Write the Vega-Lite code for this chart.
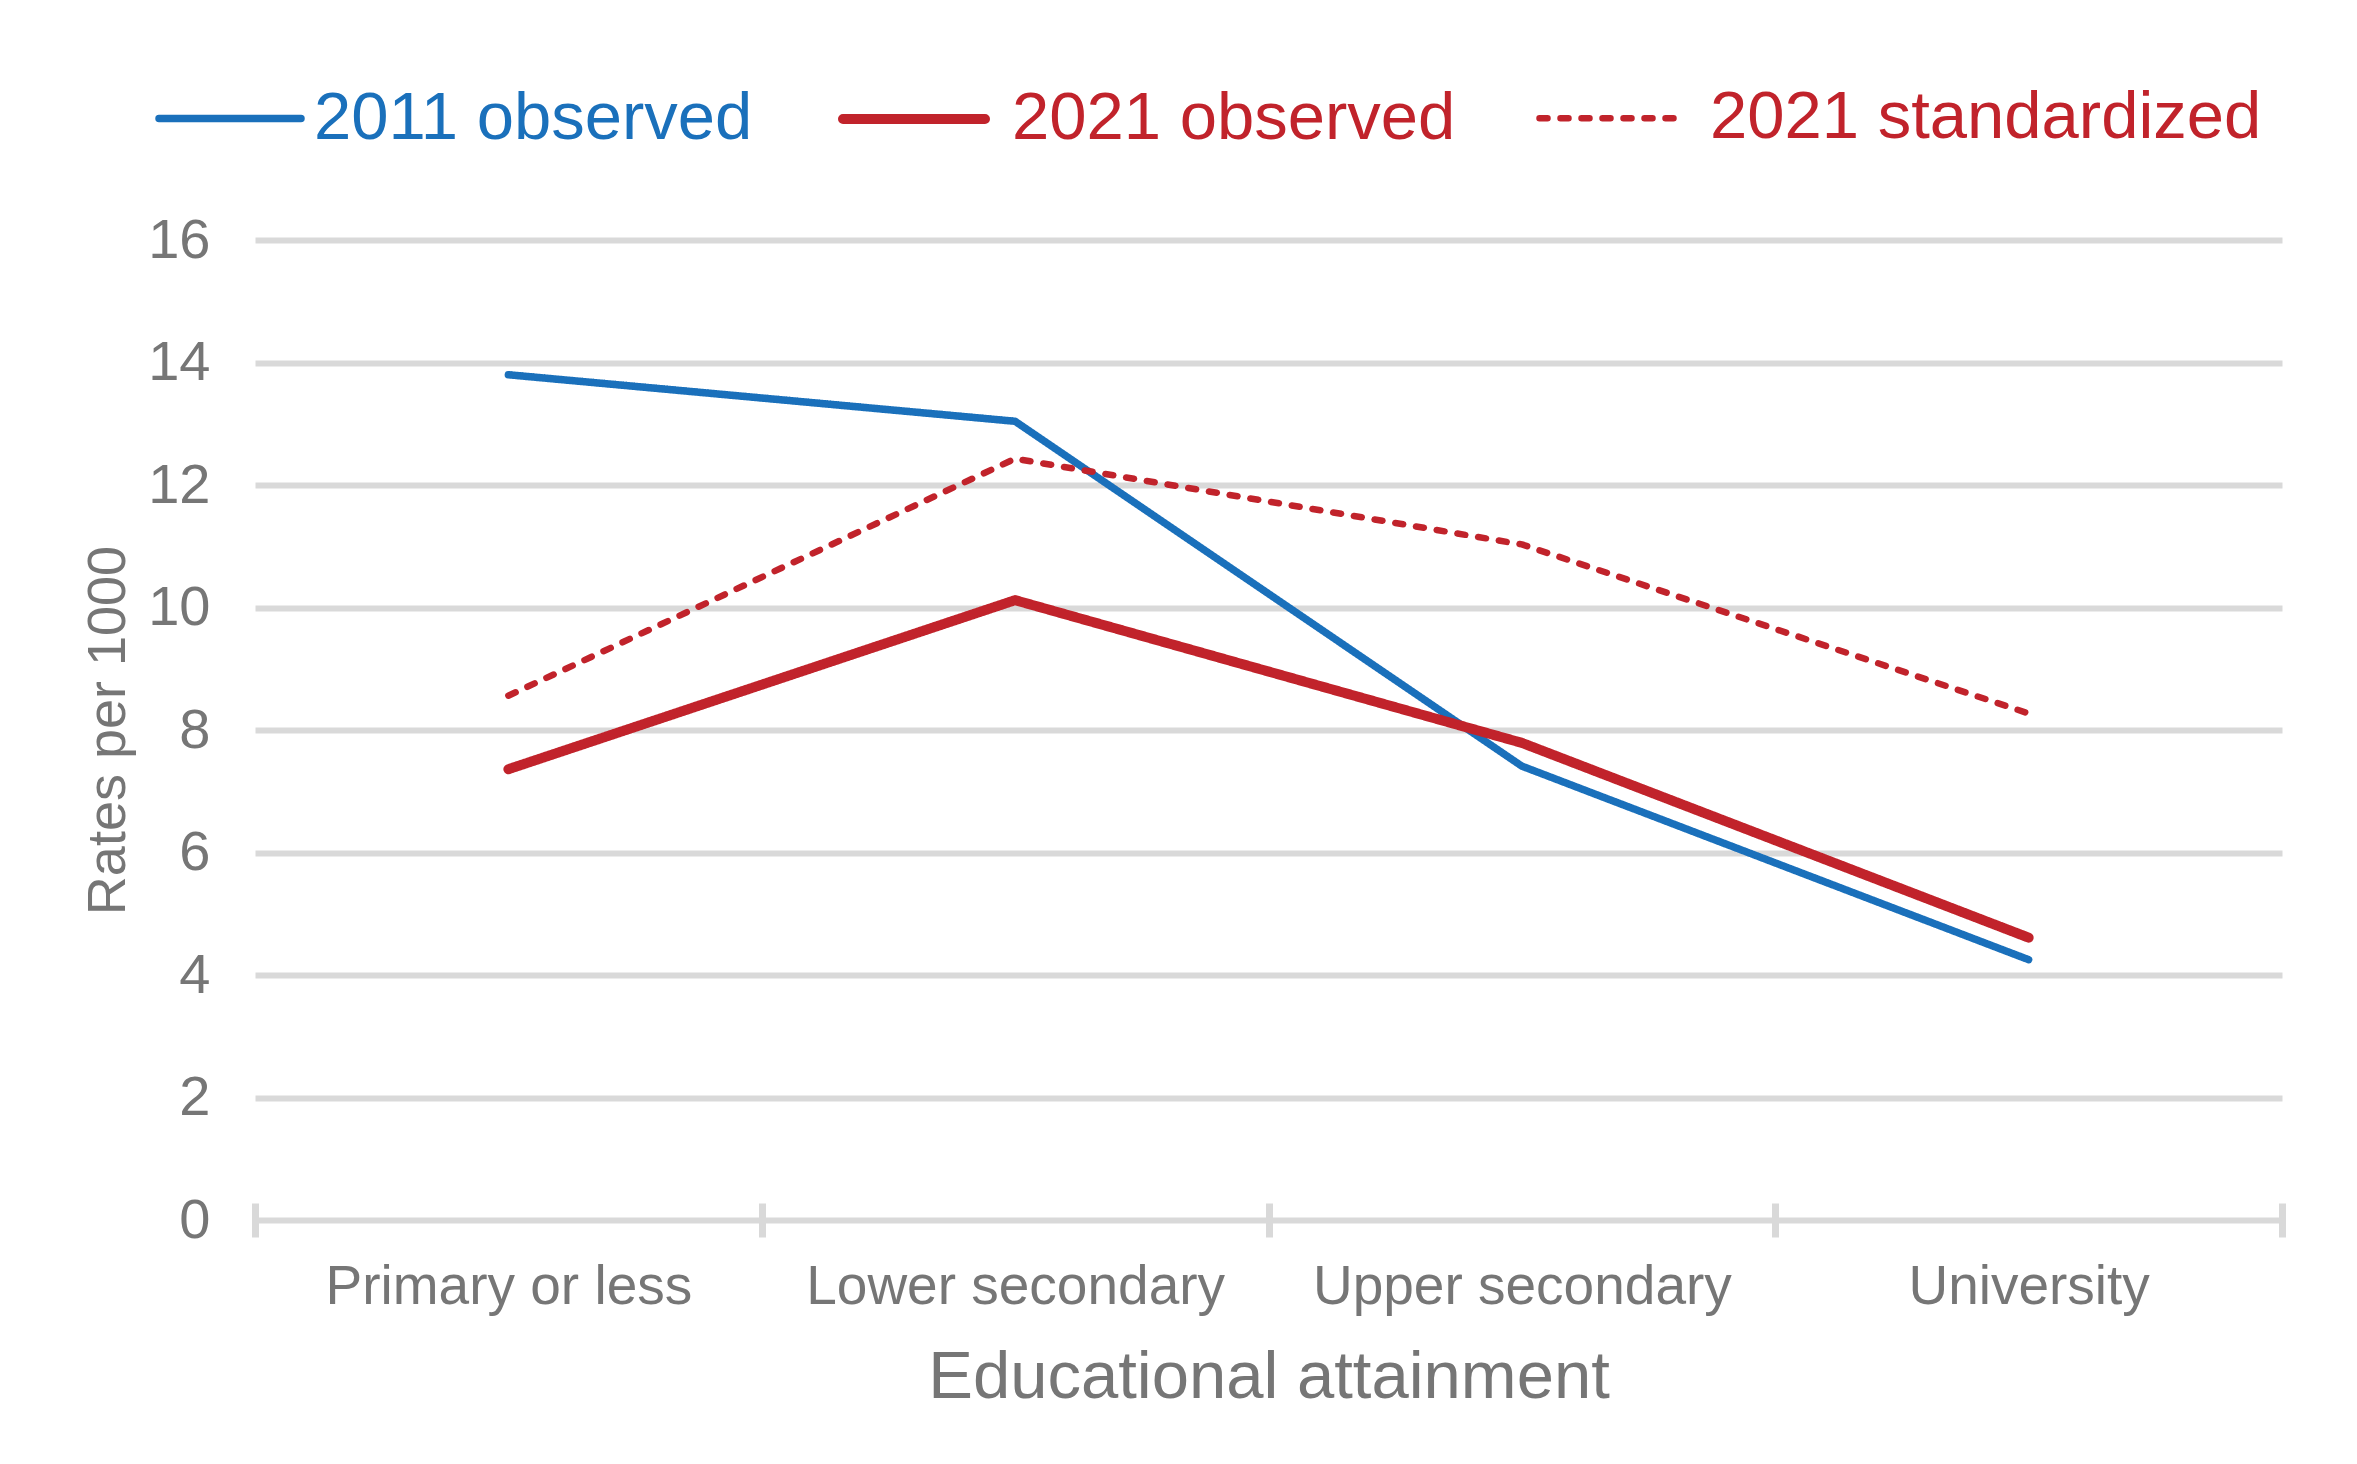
{
  "$schema": "https://vega.github.io/schema/vega-lite/v6.json",
  "description": "Rates per 1000 by educational attainment",
  "width": 2027,
  "height": 980,
  "autosize": {"type": "none"},
  "padding": {"left": 255, "top": 240, "right": 75, "bottom": 244},
  "background": "white",
  "config": {
    "font": "Liberation Sans",
    "view": {"stroke": null},
    "legend": {
      "orient": "none",
      "legendX": -100,
      "legendY": -197,
      "direction": "horizontal",
      "title": null,
      "symbolType": "stroke",
      "symbolSize": 20164,
      "labelFontSize": 67,
      "labelLimit": 2000,
      "labelOffset": 9,
      "columnPadding": 70
    }
  },
  "data": {
    "values": [
      {"level": "Primary or less", "series": "2011 observed", "rate": 13.80},
      {"level": "Lower secondary", "series": "2011 observed", "rate": 13.04},
      {"level": "Upper secondary", "series": "2011 observed", "rate": 7.41},
      {"level": "University", "series": "2011 observed", "rate": 4.25},
      {"level": "Primary or less", "series": "2021 observed", "rate": 7.36},
      {"level": "Lower secondary", "series": "2021 observed", "rate": 10.12},
      {"level": "Upper secondary", "series": "2021 observed", "rate": 7.79},
      {"level": "University", "series": "2021 observed", "rate": 4.61},
      {"level": "Primary or less", "series": "2021 standardized", "rate": 8.56},
      {"level": "Lower secondary", "series": "2021 standardized", "rate": 12.43},
      {"level": "Upper secondary", "series": "2021 standardized", "rate": 11.03},
      {"level": "University", "series": "2021 standardized", "rate": 8.27}
    ]
  },
  "mark": {"type": "line", "strokeCap": "round", "strokeJoin": "round"},
  "encoding": {
    "x": {
      "field": "level",
      "type": "nominal",
      "sort": ["Primary or less", "Lower secondary", "Upper secondary", "University"],
      "scale": {"paddingInner": 0, "paddingOuter": 0},
      "axis": {
        "title": "Educational attainment",
        "titleFontSize": 67,
        "titleFontWeight": "normal",
        "titleColor": "#767676",
        "titlePadding": 30,
        "labelFontSize": 55,
        "labelLimit": 2000,
        "labelColor": "#767676",
        "labelAngle": 0,
        "labelPadding": 23,
        "domain": false,
        "grid": false,
        "ticks": true,
        "tickBand": "extent",
        "tickSize": 34,
        "tickWidth": 7,
        "tickColor": "#d9d9d9",
        "offset": -17
      }
    },
    "y": {
      "field": "rate",
      "type": "quantitative",
      "scale": {"domain": [0, 16]},
      "axis": {
        "title": "Rates per 1000",
        "titleFontSize": 54,
        "titleFontWeight": "normal",
        "titleColor": "#767676",
        "titlePadding": 12,
        "values": [0, 2, 4, 6, 8, 10, 12, 14, 16],
        "labelFontSize": 56,
        "labelColor": "#767676",
        "labelPadding": 45,
        "domain": false,
        "ticks": false,
        "grid": true,
        "gridColor": "#d9d9d9",
        "gridWidth": 6
      }
    },
    "color": {
      "field": "series",
      "type": "nominal",
      "scale": {
        "domain": ["2011 observed", "2021 observed", "2021 standardized"],
        "range": ["#1a70bb", "#c1232b", "#c1232b"]
      },
      "legend": {
        "encode": {
          "labels": {
            "update": {
              "fill": {"scale": "color", "field": "value"},
              "dx": {"signal": "datum.value === '2021 standardized' ? 16 : datum.value === '2021 observed' ? 13 : 0"}
            }
          },
          "symbols": {"update": {"strokeCap": {"value": "round"}}}
        }
      }
    },
    "strokeDash": {
      "field": "series",
      "type": "nominal",
      "scale": {
        "domain": ["2011 observed", "2021 observed", "2021 standardized"],
        "range": [[1, 0], [1, 0], [8, 13]]
      }
    },
    "strokeWidth": {
      "field": "series",
      "type": "nominal",
      "scale": {
        "type": "ordinal",
        "domain": ["2011 observed", "2021 observed", "2021 standardized"],
        "range": [7.5, 10, 6.5]
      }
    }
  }
}
